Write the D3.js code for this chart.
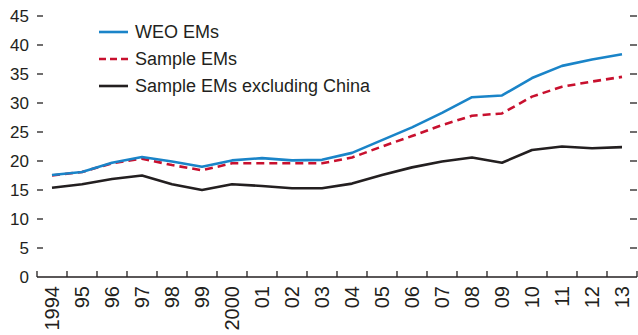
<!DOCTYPE html>
<html>
<head>
<meta charset="utf-8">
<script src="https://cdnjs.cloudflare.com/ajax/libs/d3/7.8.5/d3.min.js"></script>
<style>
    body { margin: 0; background: #fff; }
    svg text { font-family: "Liberation Sans", Arial, sans-serif; fill: #231f20; }
    svg .x.axis text { font-family: "Liberation Sans Narrow", "Arial Narrow", "Liberation Sans", sans-serif; }
</style>
</head>
<body>
<div id="chart"></div>
<script>
"use strict";

var years = ["1994", "95", "96", "97", "98", "99", "2000", "01", "02", "03",
             "04", "05", "06", "07", "08", "09", "10", "11", "12", "13"];

var weoEMs = [17.6, 18.1, 19.7, 20.7, 19.9, 19.0, 20.1, 20.5, 20.1, 20.2,
              21.4, 23.6, 25.8, 28.3, 31.0, 31.3, 34.3, 36.4, 37.5, 38.4];

var sampleEMs = [17.5, 18.1, 19.6, 20.4, 19.3, 18.4, 19.6, 19.6, 19.6, 19.6,
                 20.6, 22.5, 24.3, 26.2, 27.8, 28.2, 31.1, 32.8, 33.7, 34.5];

var sampleExChina = [15.4, 16.0, 16.9, 17.5, 16.0, 15.0, 16.0, 15.7, 15.3, 15.3,
                     16.1, 17.6, 18.9, 19.9, 20.6, 19.7, 21.9, 22.5, 22.2, 22.4];

var yTicks = [0, 5, 10, 15, 20, 25, 30, 35, 40, 45];

var series = [
    { name: "WEO EMs", values: weoEMs, color: "#1a84c8", dash: null },
    { name: "Sample EMs", values: sampleEMs, color: "#c8102e", dash: "8,5" },
    { name: "Sample EMs excluding China", values: sampleExChina, color: "#231f20", dash: null }
];

var width = 638, height = 335;
var plot = { left: 37, right: 637, top: 16, bottom: 277 };

var svg = d3.select("#chart")
    .append("svg")
    .attr("width", width)
    .attr("height", height);

var xScale = d3.scaleBand()
    .domain(years)
    .range([plot.left, plot.right]);

var yScale = d3.scaleLinear()
    .domain([0, 45])
    .range([plot.bottom, plot.top]);

// y tick marks on both sides, labels on the left only
var gY = svg.append("g").attr("class", "y axis");

gY.selectAll("line.left")
    .data(yTicks.filter(function(d) { return d > 0; }))
    .enter()
    .append("line")
    .attr("class", "left")
    .attr("x1", plot.left)
    .attr("x2", plot.left + 6)
    .attr("y1", function(d) { return yScale(d); })
    .attr("y2", function(d) { return yScale(d); })
    .attr("stroke", "#231f20")
    .attr("stroke-width", 1.3);

gY.selectAll("line.right")
    .data(yTicks.filter(function(d) { return d > 0; }))
    .enter()
    .append("line")
    .attr("class", "right")
    .attr("x1", plot.right - 7)
    .attr("x2", plot.right)
    .attr("y1", function(d) { return yScale(d); })
    .attr("y2", function(d) { return yScale(d); })
    .attr("stroke", "#231f20")
    .attr("stroke-width", 1.3);

gY.selectAll("text")
    .data(yTicks)
    .enter()
    .append("text")
    .attr("x", 29)
    .attr("y", function(d) { return yScale(d); })
    .attr("dy", "0.36em")
    .attr("text-anchor", "end")
    .style("font-size", "17px")
    .text(function(d) { return d; });

// x axis: baseline with upward ticks at band edges
var gX = svg.append("g").attr("class", "x axis");

gX.append("line")
    .attr("x1", plot.left)
    .attr("x2", plot.right)
    .attr("y1", plot.bottom)
    .attr("y2", plot.bottom)
    .attr("stroke", "#231f20")
    .attr("stroke-width", 1.5);

var edges = years.map(function(d) { return xScale(d); }).concat([plot.right]);

gX.selectAll("line.tick")
    .data(edges)
    .enter()
    .append("line")
    .attr("class", "tick")
    .attr("x1", function(d) { return d; })
    .attr("x2", function(d) { return d; })
    .attr("y1", plot.bottom)
    .attr("y2", plot.bottom - 6)
    .attr("stroke", "#231f20")
    .attr("stroke-width", 1.3);

gX.selectAll("text")
    .data(years)
    .enter()
    .append("text")
    .attr("transform", function(d) {
        return "translate(" + (xScale(d) + xScale.bandwidth() / 2) + "," + (plot.bottom + 9) + ") rotate(-90)";
    })
    .attr("text-anchor", "end")
    .attr("dy", "0.36em")
    .style("font-size", "20px")
    .text(function(d) { return d; });

// lines
var line = d3.line()
    .x(function(d, i) { return xScale(years[i]) + xScale.bandwidth() / 2; })
    .y(function(d) { return yScale(d); });

svg.selectAll("path.series")
    .data(series.slice().reverse())
    .enter()
    .append("path")
    .attr("class", "series")
    .attr("d", function(d) { return line(d.values); })
    .attr("fill", "none")
    .attr("stroke", function(d) { return d.color; })
    .attr("stroke-width", 2.6)
    .attr("stroke-dasharray", function(d) { return d.dash; })
    .attr("stroke-linejoin", "round");

// legend
var legend = svg.append("g")
    .attr("transform", "translate(99,32)");

var rows = legend.selectAll("g")
    .data(series)
    .enter()
    .append("g")
    .attr("transform", function(d, i) { return "translate(0," + (i * 27) + ")"; });

rows.append("line")
    .attr("x1", 0)
    .attr("x2", 29)
    .attr("stroke", function(d) { return d.color; })
    .attr("stroke-width", 2.6)
    .attr("stroke-dasharray", function(d) { return d.dash ? "7,4" : null; });

rows.append("text")
    .attr("x", 36)
    .attr("dy", "0.36em")
    .style("font-size", "18px")
    .text(function(d) { return d.name; });
</script>
</body>
</html>
